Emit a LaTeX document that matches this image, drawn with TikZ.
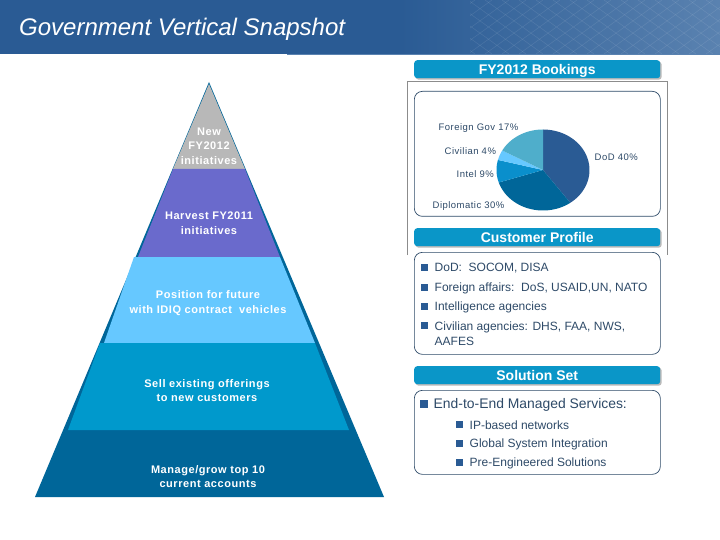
\documentclass[tikz,border=0pt]{standalone}
\usepackage{fontspec}
\setmainfont{Liberation Sans}
\newfontfamily\spaced[LetterSpace=5]{Liberation Sans}
\usetikzlibrary{shadows}
\definecolor{hdr}{HTML}{2A5B94}
\definecolor{hdrr}{HTML}{5A82B0}
\definecolor{bar}{HTML}{0A96C8}
\definecolor{gy}{HTML}{B8B8B8}
\definecolor{pur}{HTML}{6A6ACC}
\definecolor{lb}{HTML}{66C8FF}
\definecolor{mb}{HTML}{0099CC}
\definecolor{db}{HTML}{006699}
\definecolor{ink}{HTML}{2E4A68}
\definecolor{slA}{HTML}{2A5B94}
\definecolor{slC}{HTML}{0A8FCC}
\definecolor{slD}{HTML}{66C8FF}
\definecolor{slE}{HTML}{4FAECB}
\tikzset{
  bartitle/.style={fill=bar,rounded corners=3pt,minimum width=246pt,minimum height=18pt,inner sep=0pt,
    text=white,font=\bfseries\fontsize{14}{16}\selectfont,anchor=north west,text depth=2pt,text height=12pt,
    drop shadow={shadow xshift=1.5pt,shadow yshift=-1.5pt,fill=black!45,opacity=.6}},
  panel/.style={draw=ink,line width=.7pt,fill=white,rounded corners=8pt,minimum width=246pt,inner sep=0pt,anchor=north west},
  pyrtext/.style={text=white,align=center,font=\spaced\bfseries\fontsize{11}{14.6}\selectfont},
  pietext/.style={text=ink,anchor=west,font=\spaced\fontsize{9.5}{11}\selectfont,inner sep=0pt},
  listtext/.style={text=ink,anchor=west,align=left,font=\fontsize{12}{14.7}\selectfont,inner sep=0pt},
  sq/.style={fill=hdr,minimum size=6.5pt,inner sep=0pt,anchor=center},
}
\begin{document}
\begin{tikzpicture}[x=1pt,y=-1pt]
\useasboundingbox (0,0) rectangle (720,540);
\fill[white] (0,0) rectangle (720,540);
% header
\fill[hdr] (0,0) rectangle (401,54);
\shade[left color=hdr,right color=hdrr] (400,0) rectangle (720,54);
\begin{scope}
\clip (470,0) rectangle (720,54);
\foreach \k in {0,...,22}{
  \draw[white,opacity=.1,line width=.5pt] ({400+\k*17},0) -- ({400+\k*17+75},54);
  \draw[white,opacity=.1,line width=.5pt] ({400+\k*17},54) -- ({400+\k*17+75},0);
}
\end{scope}
\draw[hdrr,line width=.7pt] (287,54.3) -- (720,54.3);
\node (title) [anchor=west,inner sep=0pt,text=white,font=\itshape\fontsize{24}{28}\selectfont] at (19,29) {Government Vertical Snapshot};
% pyramid
\fill[db] (209,82) -- (384,497) -- (35,497) -- cycle;
\fill[gy] (209,84) -- (245,169) -- (173,169) -- cycle;
\fill[pur] (173,169) -- (245,169) -- (280,257) -- (138,257) -- cycle;
\fill[lb] (134,257) -- (280,257) -- (315,343) -- (104,343) -- cycle;
\fill[mb] (100,343) -- (315,343) -- (349,430) -- (68,430) -- cycle;
\node (lvA) [pyrtext] at (209,146) {New\\FY2012\\initiatives};
\node (lvB) [pyrtext] at (209,223) {Harvest FY2011\\initiatives};
\node (lvC) [pyrtext] at (208,303) {Position for future\\with IDIQ contract\ \ vehicles};
\node (lvD) [pyrtext] at (207,390.5) {Sell existing offerings\\to new customers};
\node (lvE) [pyrtext] at (208,476.5) {Manage/grow top 10\\current accounts};
% right frame
\draw[black!45,line width=.6pt] (407.5,255) -- (407.5,81.5) -- (667.5,81.5) -- (667.5,255);
\node (panelA) [panel,minimum height=125pt] at (414,91) {};
\node (panelB) [panel,minimum height=102pt] at (414,252) {};
\node (panelC) [panel,minimum height=84pt] at (414,390) {};
\node (barA) [bartitle] at (414,60) {FY2012 Bookings};
\node (barB) [bartitle] at (414,228) {Customer Profile};
\node (barC) [bartitle] at (414,366) {Solution Set};
% pie
\def\pie#1#2#3{\fill[#1] (543,170) -- plot[domain=#2:#3,samples=40] ({543+46.5*cos(\x)},{170-40.5*sin(\x)}) -- cycle;}
\pie{slA}{90}{-54}
\pie{db}{-54}{-162}
\pie{slC}{-162}{-194.4}
\pie{slD}{-194.4}{-208.8}
\pie{slE}{-208.8}{-270}
\node (pA) [pietext] at (438.5,128) {Foreign Gov 17\%};
\node (pB) [pietext] at (444.5,151.5) {Civilian 4\%};
\node (pC) [pietext] at (456.5,174.5) {Intel 9\%};
\node (pD) [pietext] at (432.5,206) {Diplomatic 30\%};
\node (pE) [pietext] at (594.5,157) {DoD 40\%};
% customer profile
\node (sqA) [sq] at (424.5,267.5) {};
\node (tA) [listtext] at (434.5,268.5) {DoD:\ \ SOCOM, DISA};
\node (sqB) [sq] at (424.5,287.5) {};
\node (tB) [listtext] at (434.5,288.5) {Foreign affairs:\ \ DoS, USAID,UN, NATO};
\node (sqC) [sq] at (424.5,306.5) {};
\node (tC) [listtext] at (434.5,307.5) {Intelligence agencies};
\node (sqD) [sq] at (424.5,325.5) {};
\node (tD) [listtext] at (434.5,333.5) {Civilian agencies: DHS, FAA, NWS,\\AAFES};
% solution set
\node (sqE) [sq,minimum size=8pt] at (424,404) {};
\node (tE) [listtext,font=\fontsize{13.9}{16}\selectfont] at (433.5,405) {End-to-End Managed Services:};
\node (sqF) [sq] at (459.5,424.5) {};
\node (tF) [listtext] at (469.5,425.5) {IP-based networks};
\node (sqG) [sq] at (459.5,443.5) {};
\node (tG) [listtext] at (469.5,444.5) {Global System Integration};
\node (sqH) [sq] at (459.5,462.5) {};
\node (tH) [listtext] at (469.5,463.5) {Pre-Engineered Solutions};
\end{tikzpicture}
\end{document}
